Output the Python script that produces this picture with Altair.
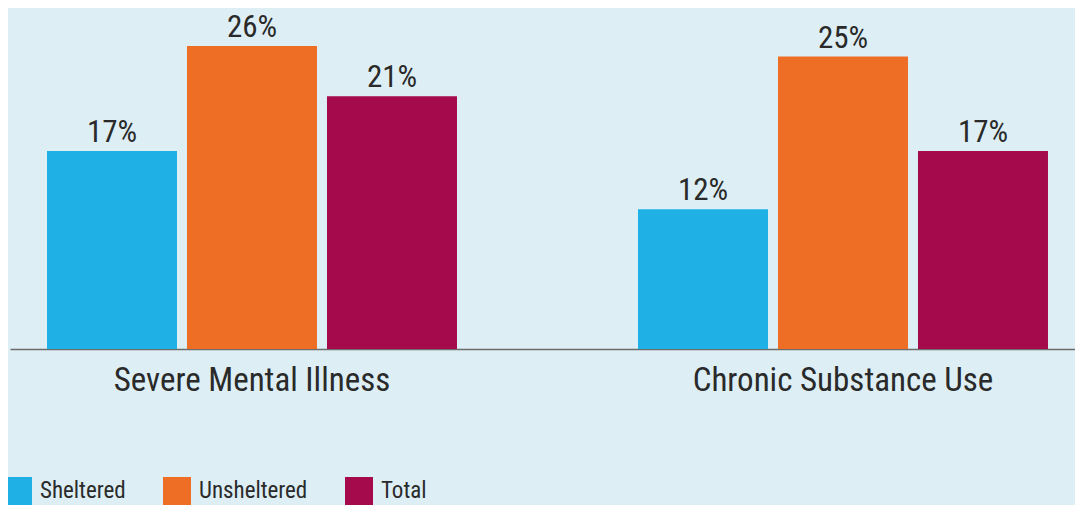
import altair as alt
import pandas as pd

categories = ["Severe Mental Illness", "Chronic Substance Use"]
series = ["Sheltered", "Unsheltered", "Total"]
# bar heights
sheltered = [17, 12]
unsheltered = [26, 25.1]
total = [21.7, 17]
# printed labels
sheltered_lbl = ["17%", "12%"]
unsheltered_lbl = ["26%", "25%"]
total_lbl = ["21%", "17%"]
colors = ["#1fb0e5", "#ef6e25", "#a50a4c"]

rows = []
for i, c in enumerate(categories):
    for s, vals, lbls in zip(series, [sheltered, unsheltered, total],
                             [sheltered_lbl, unsheltered_lbl, total_lbl]):
        rows.append({"category": c, "series": s, "value": vals[i], "label": lbls[i]})
df = pd.DataFrame(rows)

FONT = "Roboto Condensed"
TXT = "#2a2a2a"

base = alt.Chart(df).encode(
    x=alt.X(
        "category:N",
        sort=categories,
        scale=alt.Scale(paddingInner=0.30626, paddingOuter=0.05415, align=0.578),
        axis=alt.Axis(
            title=None, labelAngle=0, ticks=False, domainColor="#6d6d6d", domainWidth=1.5,
            labelFont=FONT, labelFontSize=33, labelColor=TXT, labelPadding=15, labelLimit=0,
        ),
    ),
    xOffset=alt.XOffset("series:N", sort=series, scale=alt.Scale(paddingInner=0.0714, paddingOuter=0)),
    y=alt.Y("value:Q", scale=alt.Scale(domain=[0, 29.27], nice=False, zero=True), axis=None),
)

bars = base.mark_bar().encode(
    color=alt.Color(
        "series:N",
        sort=series,
        scale=alt.Scale(domain=series, range=colors),
        legend=alt.Legend(
            orient="none", legendX=-6, legendY=469, direction="horizontal", title=None,
            symbolType="square", symbolSize=784, symbolStrokeWidth=0, symbolOpacity=1,
            labelFont=FONT, labelFontSize=23, labelColor=TXT, labelOffset=8, columnPadding=37,
            labelLimit=0,
        ),
    )
)

text = base.mark_text(dy=-9, baseline="alphabetic", font=FONT, fontSize=31, color=TXT).encode(
    text="label:N"
)

chart = (
    alt.layer(bars, text)
    .properties(
        width=1065,
        height=341,
        autosize=alt.AutoSizeParams(type="none"),
        padding={"left": 2, "top": 0, "right": 0, "bottom": 156},
        background="#ddeff5",
    )
    .configure_view(stroke=None)
)

chart.save("out.html", embed_options={"renderer": "svg", "actions": False})
